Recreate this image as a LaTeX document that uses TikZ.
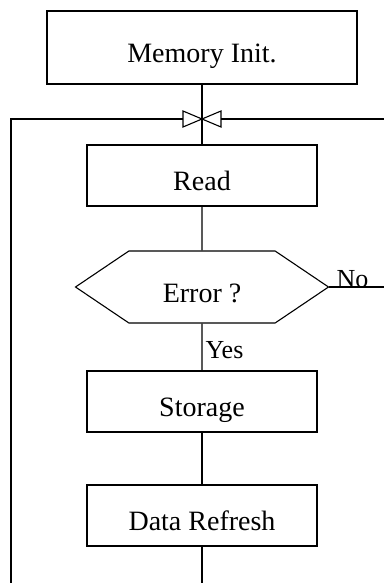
\documentclass[tikz,border=0pt]{standalone}
\usepackage{fontspec}
\setmainfont{Liberation Serif}
\usetikzlibrary{shapes.symbols}

\begin{document}
\begin{tikzpicture}[x=1pt,y=-1pt,line width=1.1pt,
                    every node/.style={font=\fontsize{28}{32}\selectfont},
                    schritt/.style={draw,inner sep=0pt,minimum width=230pt,minimum height=61pt,
                                    text height=30pt,text depth=0pt},
                    frage/.style={draw,shape=signal,signal to=west and east,signal pointer angle=68,
                                  inner sep=0pt,minimum width=253pt,minimum height=72pt,
                                  text height=30pt,text depth=0pt},
                    zweig/.style={inner sep=0pt,font=\fontsize{26}{30}\selectfont}]
  \useasboundingbox (0,0) rectangle (384,583);

  % Ablauf
  \node[schritt,minimum width=310pt,minimum height=73pt] (init) at (202,47.5) {Memory Init.};
  \node[schritt] (read)    at (202,175.5) {Read};
  \node[frage]   (error)   at (202,287)   {Error ?};
  \node[schritt] (store)   at (202,401.5) {Storage};
  \node[schritt] (refresh) at (202,515.5) {Data Refresh};

  % Rueckfuehrung
  \coordinate (knoten) at (202,119);
  \coordinate (links)  at (11,119);
  \coordinate (rechts) at (384,119);
  \coordinate (unten)  at (202,583);
  \coordinate (links unten) at (11,583);
  \coordinate (nein)   at (384,287);

  \draw (init) -- (read);
  \foreach \a/\b in {read/error,store/refresh,refresh/unten}
    \draw (\a) -- (\b);
  \draw (error) -- node[zweig,pos=0.75,anchor=base west,xshift=3pt] {Yes} (store);
  \draw (error.east) -- node[zweig,pos=0.12,anchor=base west] {No} (nein);

  % Sammelstelle
  \draw (links unten) -- (links) -- ([xshift=-19pt]knoten);
  \draw ([xshift=19pt]knoten) -- (rechts);
  \draw (knoten) -- ++(-19,-8) -- ++(0,16) -- cycle;
  \draw (knoten) -- ++(19,-8) -- ++(0,16) -- cycle;
\end{tikzpicture}
\end{document}
